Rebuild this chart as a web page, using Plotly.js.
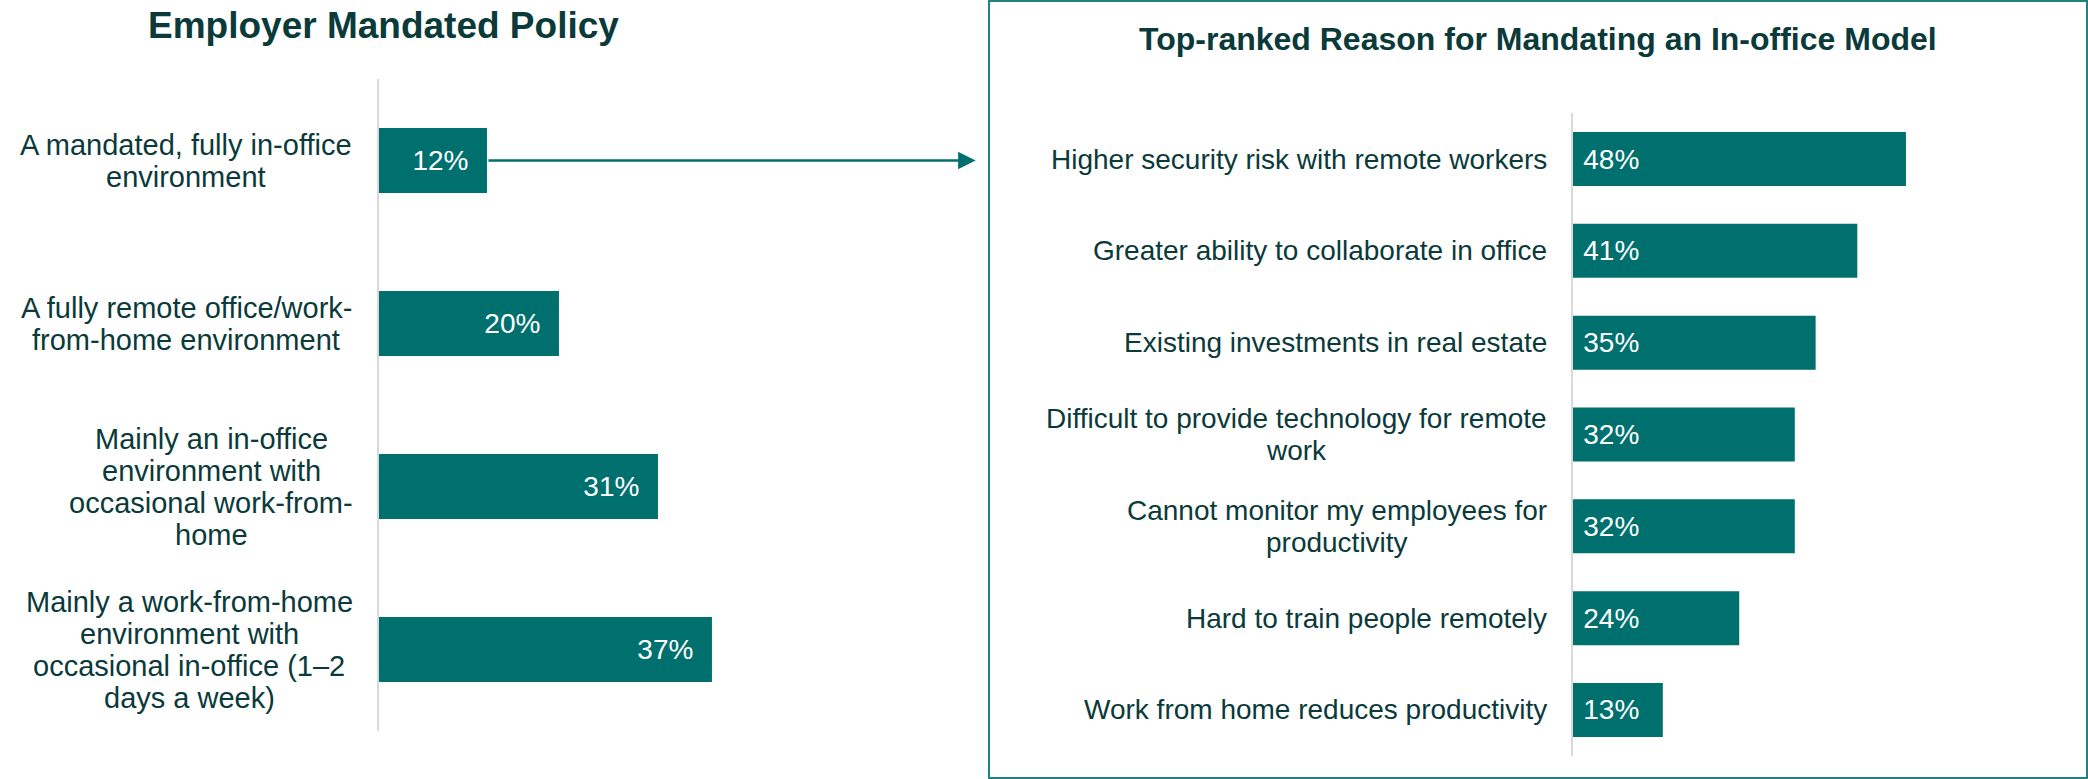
<!DOCTYPE html>
<html>
<head>
<meta charset="utf-8">
<script src="https://cdn.plot.ly/plotly-3.0.1.min.js"></script>
<style>
  html, body { margin: 0; padding: 0; background: #ffffff; }
  #chart { width: 2088px; height: 779px; }
</style>
</head>
<body>
<div id="chart"></div>
<script>
// ---------- data ----------
const leftTitle = "Employer Mandated Policy";
const leftCategories = [
  "A mandated, fully in-office<br>environment",
  "A fully remote office/work-<br>from-home environment",
  "Mainly an in-office<br>environment with<br>occasional work-from-<br>home",
  "Mainly a work-from-home<br>environment with<br>occasional in-office (1–2<br>days a week)"
];
const leftValues = [12, 20, 31, 37];

const rightTitle = "Top-ranked Reason for Mandating an In-office Model";
const rightCategories = [
  "Higher security risk with remote workers",
  "Greater ability to collaborate in office",
  "Existing investments in real estate",
  "Difficult to provide technology for remote<br>work",
  "Cannot monitor my employees for<br>productivity",
  "Hard to train people remotely",
  "Work from home reduces productivity"
];
const rightValues = [48, 41, 35, 32, 32, 24, 13];

// ---------- style ----------
const FONT = "Liberation Sans, Arial, sans-serif";
const BAR = "#00706E";
const DARK = "#0A3A3A";
const LABEL_SIZE_L = 29;
const LABEL_SIZE_R = 28;
const LINE_H = 32;
const NB = "\u00a0";

const ctx = document.createElement("canvas").getContext("2d");
function textWidth(s, size) {
  ctx.font = size + "px 'Liberation Sans'";
  return ctx.measureText(s).width;
}

function labelAnnotations(cats, xref, yref, size, gap) {
  const anns = [];
  cats.forEach((c, i) => {
    const lines = c.split("<br>");
    const w = Math.max(...lines.map(l => textWidth(l, size)));
    const n = lines.length;
    lines.forEach((l, j) => {
      anns.push({
        xref: xref, yref: yref, x: 0, y: i,
        xanchor: "center", yanchor: "middle",
        xshift: -(gap + w / 2),
        yshift: ((n - 1) / 2 - j) * LINE_H,
        text: l, showarrow: false,
        font: { family: FONT, size: size, color: DARK }
      });
    });
  });
  return anns;
}

const traces = [
  {
    type: "bar", orientation: "h",
    y: leftCategories.map((c, i) => i), x: leftValues,
    xaxis: "x", yaxis: "y",
    marker: { color: BAR, line: { width: 0 } },
    text: leftValues.map(v => v + "%" + NB + NB),
    textposition: "inside", insidetextanchor: "end",
    constraintext: "none",
    textfont: { family: FONT, size: 28, color: "#ffffff" },
    hoverinfo: "skip"
  },
  {
    type: "bar", orientation: "h",
    y: rightCategories.map((c, i) => i), x: rightValues,
    xaxis: "x2", yaxis: "y2",
    marker: { color: BAR, line: { width: 0 } },
    text: rightValues.map(v => NB + v + "%"),
    textposition: "inside", insidetextanchor: "start",
    constraintext: "none",
    textfont: { family: FONT, size: 28, color: "#ffffff" },
    hoverinfo: "skip"
  }
];

const annotations = []
  .concat(labelAnnotations(leftCategories, "x", "y", LABEL_SIZE_L, 26))
  .concat(labelAnnotations(rightCategories, "x2", "y2", LABEL_SIZE_R, 25.5));

annotations.push({
  xref: "paper", yref: "paper", x: 0.1835, y: 1 - 25 / 779,
  xanchor: "center", yanchor: "middle",
  text: "<b>" + leftTitle + "</b>", showarrow: false,
  font: { family: FONT, size: 37, color: DARK }
});
annotations.push({
  xref: "paper", yref: "paper", x: 0.7366, y: 1 - 39 / 779,
  xanchor: "center", yanchor: "middle",
  text: "<b>" + rightTitle + "</b>", showarrow: false,
  font: { family: FONT, size: 32, color: DARK }
});
// arrow from the first left bar to the right panel
annotations.push({
  xref: "x", yref: "y", x: 66.3, y: 0,
  axref: "x", ayref: "y", ax: leftValues[0], ay: 0,
  text: "", showarrow: true,
  arrowhead: 2, arrowsize: 1.4, arrowwidth: 2.5, arrowcolor: BAR,
  standoff: 0, startstandoff: 0
});

const layout = {
  width: 2088, height: 779,
  margin: { l: 0, r: 0, t: 0, b: 0, pad: 0 },
  paper_bgcolor: "#ffffff", plot_bgcolor: "rgba(0,0,0,0)",
  showlegend: false,
  xaxis: {
    domain: [379 / 2088, 0.5], range: [0, 73.9],
    showgrid: false, zeroline: false, showticklabels: false, showline: false
  },
  yaxis: {
    domain: [1 - 731 / 779, 1 - 79 / 779],
    type: "linear", range: [leftCategories.length - 0.5, -0.5],
    showgrid: false, zeroline: false, showticklabels: false,
    showline: true, linecolor: "#D9D9D9", linewidth: 2, ticks: ""
  },
  xaxis2: {
    anchor: "y2",
    domain: [1572.5 / 2088, 0.99], range: [0, 71.2],
    showgrid: false, zeroline: false, showticklabels: false, showline: false
  },
  yaxis2: {
    anchor: "x2",
    domain: [1 - 755.9 / 779, 1 - 113.1 / 779],
    type: "linear", range: [rightCategories.length - 0.5, -0.5],
    showgrid: false, zeroline: false, showticklabels: false,
    showline: true, linecolor: "#D9D9D9", linewidth: 2, ticks: ""
  },
  annotations: annotations,
  shapes: [
    {
      type: "rect", xref: "paper", yref: "paper",
      x0: 989 / 2088, x1: 2087 / 2088, y0: 1 / 779, y1: 778 / 779,
      line: { color: "#1F8280", width: 2 }, fillcolor: "rgba(0,0,0,0)"
    }
  ]
};

// per-trace bar widths (different gaps on each panel)
traces[0].width = leftValues.map(() => 0.4);
traces[1].width = rightValues.map(() => 0.588);

Plotly.newPlot("chart", traces, layout, { staticPlot: true, displayModeBar: false });
</script>
</body>
</html>
